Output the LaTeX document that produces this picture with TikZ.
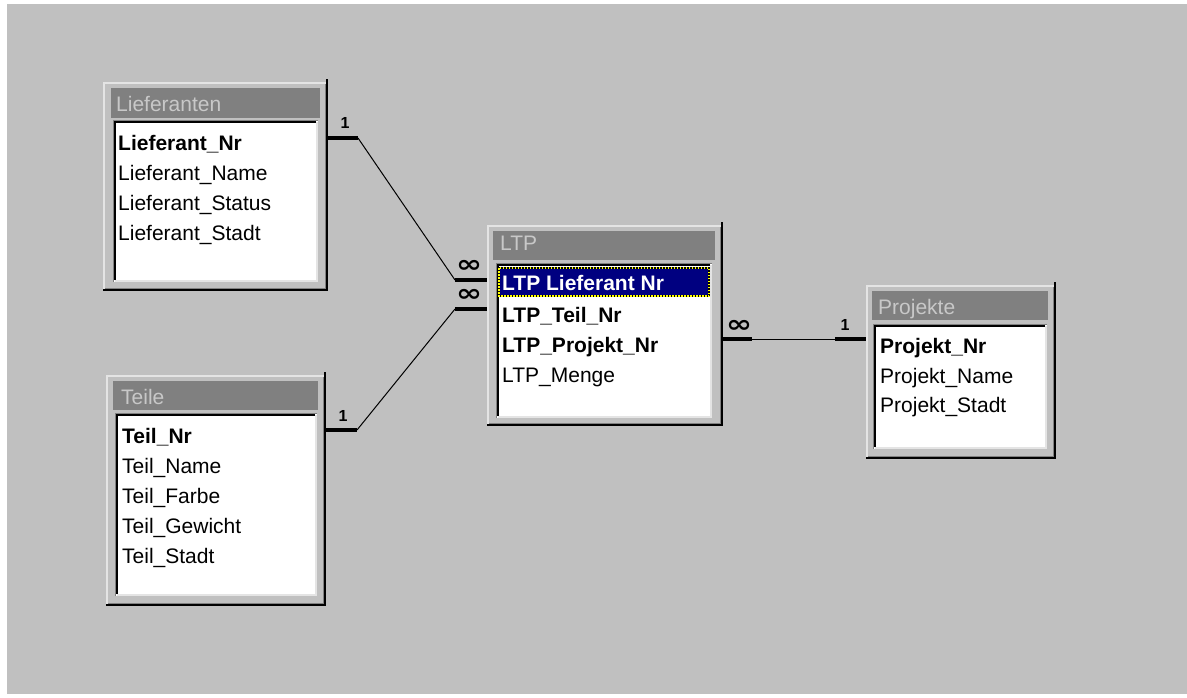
\documentclass[tikz,border=0pt]{standalone}
\usepackage{fontspec}
\setmainfont{Liberation Sans}
\newfontfamily\symfont{DejaVu Sans}
\definecolor{wgray}{HTML}{C0C0C0}
\definecolor{tgray}{HTML}{808080}
\definecolor{hlgray}{HTML}{E4E4E4}
\definecolor{ttxt}{HTML}{C8C8C8}
\definecolor{selblue}{HTML}{000080}
\definecolor{focusy}{HTML}{FFFF00}
\tikzset{
  rowtxt/.style={anchor=west, inner sep=0pt, text height=15pt, text depth=0pt, font=\fontsize{21}{25}\selectfont},
  keytxt/.style={rowtxt, font=\fontsize{21}{25}\selectfont\bfseries},
  ttltxt/.style={rowtxt, text=ttxt},
  onelbl/.style={inner sep=0pt, font=\fontsize{16}{18}\selectfont\bfseries},
  manylbl/.style={inner sep=0pt, xscale=1.3, font=\symfont\fontsize{24}{26}\selectfont\bfseries},
  thickrel/.style={line width=4.5pt},
  thinrel/.style={line width=1pt},
  tablenode/.style={inner sep=0pt, anchor=north west}
}
% outer window frame
\newcommand\accframe[4]{%
  \fill[wgray] (#1,#2) rectangle (#3,#4);
  \draw[line width=2pt, hlgray] (#1+1,#4-2) -- (#1+1,#2+1) -- (#3-2,#2+1);
  \draw[line width=1pt, tgray] (#1+2,#4-2.5) -- (#3-2.5,#4-2.5) -- (#3-2.5,#2+2);
  \draw[line width=2pt, black] (#1,#4-1) -- (#3-1,#4-1) -- (#3-1,#2-3);
}
\newcommand\acctitle[4]{\fill[tgray] (#1,#2) rectangle (#3,#4);}
\newcommand\accbody[4]{%
  \fill[white] (#1,#2) rectangle (#3,#4);
  \draw[line width=2pt, hlgray] (#1+2,#4-1) -- (#3-1,#4-1) -- (#3-1,#2+2);
  \draw[line width=1pt, tgray] (#1+0.5,#4) -- (#1+0.5,#2+0.5) -- (#3,#2+0.5);
  \draw[line width=2pt, black] (#1+2,#4-2) -- (#1+2,#2+2) -- (#3-2,#2+2);
}
\begin{document}
\begin{tikzpicture}[x=1pt, y=-1pt]
\useasboundingbox (0,0) rectangle (1187,697);
\fill[white] (0,0) rectangle (1187,697);
\fill[wgray] (7,4) rectangle (1187,694);

% ---------- table nodes (extent of each window)
\node[tablenode, minimum width=225pt, minimum height=209pt] (lief) at (103,82) {};
\node[tablenode, minimum width=220pt, minimum height=231pt] (teile) at (106,375) {};
\node[tablenode, minimum width=236pt, minimum height=201pt] (ltp) at (487,225) {};
\node[tablenode, minimum width=190pt, minimum height=174pt] (proj) at (866,285) {};

% ---------- Lieferanten
\accframe{103}{82}{328}{291}
\acctitle{111}{88}{320}{118}
\accbody{113}{120}{318}{282}
\node[ttltxt] (liefT) at (116,104) {Lieferanten};
\node[keytxt] (lief1) at (118,143) {Lieferant\_Nr};
\node[rowtxt] (lief2) at (118,173) {Lieferant\_Name};
\node[rowtxt] (lief3) at (118,203) {Lieferant\_Status};
\node[rowtxt] (lief4) at (118,233) {Lieferant\_Stadt};

% ---------- Teile
\accframe{106}{375}{326}{606}
\acctitle{113}{381}{318}{410}
\accbody{115}{413}{317}{596}
\node[ttltxt] (teileT) at (121,397) {Teile};
\node[keytxt] (teile1) at (122,436) {Teil\_Nr};
\node[rowtxt] (teile2) at (122,466) {Teil\_Name};
\node[rowtxt] (teile3) at (122,496) {Teil\_Farbe};
\node[rowtxt] (teile4) at (122,526) {Teil\_Gewicht};
\node[rowtxt] (teile5) at (122,556) {Teil\_Stadt};

% ---------- LTP
\accframe{487}{225}{723}{426}
\acctitle{493}{231}{715}{260}
\accbody{496}{263}{712}{418}
\fill[selblue] (498,267) rectangle (710,297);
\draw[line width=1.5pt, black] (499,268) rectangle (709,296);
\draw[line width=1.5pt, focusy, dash pattern=on 1.5pt off 1.5pt] (499,268) rectangle (709,296);
\node[ttltxt] (ltpT) at (500,243) {LTP};
\node[keytxt, text=white] (ltp1) at (502,283) {LTP Lieferant Nr};
\node[keytxt] (ltp2) at (502,315) {LTP\_Teil\_Nr};
\node[keytxt] (ltp3) at (502,345) {LTP\_Projekt\_Nr};
\node[rowtxt] (ltp4) at (502,375) {LTP\_Menge};

% ---------- Projekte
\accframe{866}{285}{1056}{459}
\acctitle{872}{291}{1048}{320}
\accbody{873}{324}{1047}{449}
\node[ttltxt] (projT) at (878,307) {Projekte};
\node[keytxt] (proj1) at (880,346) {Projekt\_Nr};
\node[rowtxt] (proj2) at (880,376) {Projekt\_Name};
\node[rowtxt] (proj3) at (880,405) {Projekt\_Stadt};

% ---------- relationship bend points
\coordinate (lb) at (358,138);
\coordinate (la) at (455,280);
\coordinate (tb) at (357,430);
\coordinate (ta) at (455,309);
\coordinate (pa) at (752,339);
\coordinate (pb) at (835,339);

% Lieferanten -> LTP
\draw[thickrel] (lief.east |- lb) -- (lb);
\draw[thinrel] (lb) -- (la);
\draw[thickrel] (la) -- (ltp.west |- la);
\node[onelbl] (l1) at (345,123) {1};
\node[manylbl] (lm) at (469,266) {∞};

% Teile -> LTP
\draw[thickrel] (teile.east |- tb) -- (tb);
\draw[thinrel] (tb) -- (ta);
\draw[thickrel] (ta) -- (ltp.west |- ta);
\node[onelbl] (t1) at (343,416) {1};
\node[manylbl] (tm) at (469,295) {∞};

% LTP -> Projekte
\draw[thickrel] (ltp.east |- pa) -- (pa);
\draw[thinrel] (pa) -- (pb);
\draw[thickrel] (pb) -- (proj.west |- pb);
\node[manylbl] (pm) at (739,326) {∞};
\node[onelbl] (p1) at (845,325) {1};
\end{tikzpicture}
\end{document}
